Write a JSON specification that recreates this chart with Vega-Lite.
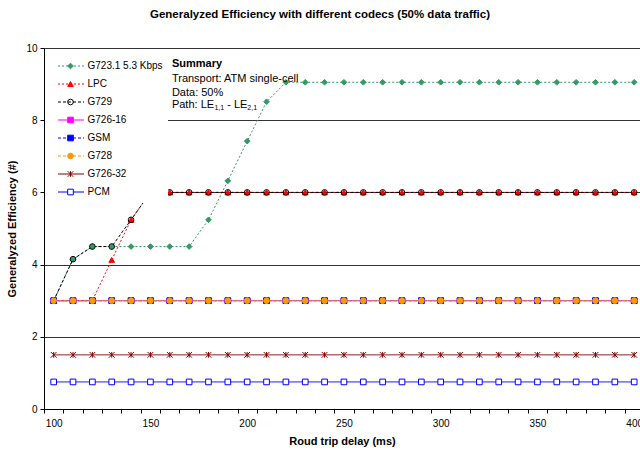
{
"$schema": "https://vega.github.io/schema/vega-lite/v6.json",
"width": 596, "height": 361,
"autosize": {"type": "none"},
"padding": {"left": 44, "top": 48, "right": 0, "bottom": 43},
"background": "white",
"title": {"text": "Generalyzed Efficiency with different codecs (50% data traffic)", "fontSize": 11.5, "fontWeight": "bold", "font": "Liberation Sans", "color": "black", "anchor": "middle", "dx": -22, "offset": 14, "baseline": "alphabetic"},
"config": {"view": {"stroke": null}, "font": "Liberation Sans"},
"datasets": {"codecs": [
{"codec":"G723.1 5.3 Kbps","delay":100,"eff":3.0},{"codec":"G723.1 5.3 Kbps","delay":110,"eff":4.15},{"codec":"G723.1 5.3 Kbps","delay":120,"eff":4.5},{"codec":"G723.1 5.3 Kbps","delay":130,"eff":4.5},{"codec":"G723.1 5.3 Kbps","delay":140,"eff":4.5},{"codec":"G723.1 5.3 Kbps","delay":150,"eff":4.5},{"codec":"G723.1 5.3 Kbps","delay":160,"eff":4.5},{"codec":"G723.1 5.3 Kbps","delay":170,"eff":4.5},{"codec":"G723.1 5.3 Kbps","delay":180,"eff":5.24},{"codec":"G723.1 5.3 Kbps","delay":190,"eff":6.32},{"codec":"G723.1 5.3 Kbps","delay":200,"eff":7.42},{"codec":"G723.1 5.3 Kbps","delay":210,"eff":8.51},{"codec":"G723.1 5.3 Kbps","delay":220,"eff":9.05},{"codec":"G723.1 5.3 Kbps","delay":230,"eff":9.05},{"codec":"G723.1 5.3 Kbps","delay":240,"eff":9.05},{"codec":"G723.1 5.3 Kbps","delay":250,"eff":9.05},{"codec":"G723.1 5.3 Kbps","delay":260,"eff":9.05},{"codec":"G723.1 5.3 Kbps","delay":270,"eff":9.05},{"codec":"G723.1 5.3 Kbps","delay":280,"eff":9.05},{"codec":"G723.1 5.3 Kbps","delay":290,"eff":9.05},{"codec":"G723.1 5.3 Kbps","delay":300,"eff":9.05},{"codec":"G723.1 5.3 Kbps","delay":310,"eff":9.05},{"codec":"G723.1 5.3 Kbps","delay":320,"eff":9.05},{"codec":"G723.1 5.3 Kbps","delay":330,"eff":9.05},{"codec":"G723.1 5.3 Kbps","delay":340,"eff":9.05},{"codec":"G723.1 5.3 Kbps","delay":350,"eff":9.05},{"codec":"G723.1 5.3 Kbps","delay":360,"eff":9.05},{"codec":"G723.1 5.3 Kbps","delay":370,"eff":9.05},{"codec":"G723.1 5.3 Kbps","delay":380,"eff":9.05},{"codec":"G723.1 5.3 Kbps","delay":390,"eff":9.05},{"codec":"G723.1 5.3 Kbps","delay":400,"eff":9.05},
{"codec":"LPC","delay":100,"eff":3},{"codec":"LPC","delay":110,"eff":3},{"codec":"LPC","delay":120,"eff":3},{"codec":"LPC","delay":130,"eff":4.13},{"codec":"LPC","delay":140,"eff":5.24},{"codec":"LPC","delay":150,"eff":6},{"codec":"LPC","delay":160,"eff":6},{"codec":"LPC","delay":170,"eff":6},{"codec":"LPC","delay":180,"eff":6},{"codec":"LPC","delay":190,"eff":6},{"codec":"LPC","delay":200,"eff":6},{"codec":"LPC","delay":210,"eff":6},{"codec":"LPC","delay":220,"eff":6},{"codec":"LPC","delay":230,"eff":6},{"codec":"LPC","delay":240,"eff":6},{"codec":"LPC","delay":250,"eff":6},{"codec":"LPC","delay":260,"eff":6},{"codec":"LPC","delay":270,"eff":6},{"codec":"LPC","delay":280,"eff":6},{"codec":"LPC","delay":290,"eff":6},{"codec":"LPC","delay":300,"eff":6},{"codec":"LPC","delay":310,"eff":6},{"codec":"LPC","delay":320,"eff":6},{"codec":"LPC","delay":330,"eff":6},{"codec":"LPC","delay":340,"eff":6},{"codec":"LPC","delay":350,"eff":6},{"codec":"LPC","delay":360,"eff":6},{"codec":"LPC","delay":370,"eff":6},{"codec":"LPC","delay":380,"eff":6},{"codec":"LPC","delay":390,"eff":6},{"codec":"LPC","delay":400,"eff":6},
{"codec":"G729","delay":100,"eff":3},{"codec":"G729","delay":110,"eff":4.15},{"codec":"G729","delay":120,"eff":4.5},{"codec":"G729","delay":130,"eff":4.5},{"codec":"G729","delay":140,"eff":5.24},{"codec":"G729","delay":150,"eff":6},{"codec":"G729","delay":160,"eff":6},{"codec":"G729","delay":170,"eff":6},{"codec":"G729","delay":180,"eff":6},{"codec":"G729","delay":190,"eff":6},{"codec":"G729","delay":200,"eff":6},{"codec":"G729","delay":210,"eff":6},{"codec":"G729","delay":220,"eff":6},{"codec":"G729","delay":230,"eff":6},{"codec":"G729","delay":240,"eff":6},{"codec":"G729","delay":250,"eff":6},{"codec":"G729","delay":260,"eff":6},{"codec":"G729","delay":270,"eff":6},{"codec":"G729","delay":280,"eff":6},{"codec":"G729","delay":290,"eff":6},{"codec":"G729","delay":300,"eff":6},{"codec":"G729","delay":310,"eff":6},{"codec":"G729","delay":320,"eff":6},{"codec":"G729","delay":330,"eff":6},{"codec":"G729","delay":340,"eff":6},{"codec":"G729","delay":350,"eff":6},{"codec":"G729","delay":360,"eff":6},{"codec":"G729","delay":370,"eff":6},{"codec":"G729","delay":380,"eff":6},{"codec":"G729","delay":390,"eff":6},{"codec":"G729","delay":400,"eff":6},
{"codec":"G726-16","delay":100,"eff":3},{"codec":"G726-16","delay":110,"eff":3},{"codec":"G726-16","delay":120,"eff":3},{"codec":"G726-16","delay":130,"eff":3},{"codec":"G726-16","delay":140,"eff":3},{"codec":"G726-16","delay":150,"eff":3},{"codec":"G726-16","delay":160,"eff":3},{"codec":"G726-16","delay":170,"eff":3},{"codec":"G726-16","delay":180,"eff":3},{"codec":"G726-16","delay":190,"eff":3},{"codec":"G726-16","delay":200,"eff":3},{"codec":"G726-16","delay":210,"eff":3},{"codec":"G726-16","delay":220,"eff":3},{"codec":"G726-16","delay":230,"eff":3},{"codec":"G726-16","delay":240,"eff":3},{"codec":"G726-16","delay":250,"eff":3},{"codec":"G726-16","delay":260,"eff":3},{"codec":"G726-16","delay":270,"eff":3},{"codec":"G726-16","delay":280,"eff":3},{"codec":"G726-16","delay":290,"eff":3},{"codec":"G726-16","delay":300,"eff":3},{"codec":"G726-16","delay":310,"eff":3},{"codec":"G726-16","delay":320,"eff":3},{"codec":"G726-16","delay":330,"eff":3},{"codec":"G726-16","delay":340,"eff":3},{"codec":"G726-16","delay":350,"eff":3},{"codec":"G726-16","delay":360,"eff":3},{"codec":"G726-16","delay":370,"eff":3},{"codec":"G726-16","delay":380,"eff":3},{"codec":"G726-16","delay":390,"eff":3},{"codec":"G726-16","delay":400,"eff":3},
{"codec":"GSM","delay":100,"eff":3},{"codec":"GSM","delay":110,"eff":3},{"codec":"GSM","delay":120,"eff":3},{"codec":"GSM","delay":130,"eff":3},{"codec":"GSM","delay":140,"eff":3},{"codec":"GSM","delay":150,"eff":3},{"codec":"GSM","delay":160,"eff":3},{"codec":"GSM","delay":170,"eff":3},{"codec":"GSM","delay":180,"eff":3},{"codec":"GSM","delay":190,"eff":3},{"codec":"GSM","delay":200,"eff":3},{"codec":"GSM","delay":210,"eff":3},{"codec":"GSM","delay":220,"eff":3},{"codec":"GSM","delay":230,"eff":3},{"codec":"GSM","delay":240,"eff":3},{"codec":"GSM","delay":250,"eff":3},{"codec":"GSM","delay":260,"eff":3},{"codec":"GSM","delay":270,"eff":3},{"codec":"GSM","delay":280,"eff":3},{"codec":"GSM","delay":290,"eff":3},{"codec":"GSM","delay":300,"eff":3},{"codec":"GSM","delay":310,"eff":3},{"codec":"GSM","delay":320,"eff":3},{"codec":"GSM","delay":330,"eff":3},{"codec":"GSM","delay":340,"eff":3},{"codec":"GSM","delay":350,"eff":3},{"codec":"GSM","delay":360,"eff":3},{"codec":"GSM","delay":370,"eff":3},{"codec":"GSM","delay":380,"eff":3},{"codec":"GSM","delay":390,"eff":3},{"codec":"GSM","delay":400,"eff":3},
{"codec":"G728","delay":100,"eff":3},{"codec":"G728","delay":110,"eff":3},{"codec":"G728","delay":120,"eff":3},{"codec":"G728","delay":130,"eff":3},{"codec":"G728","delay":140,"eff":3},{"codec":"G728","delay":150,"eff":3},{"codec":"G728","delay":160,"eff":3},{"codec":"G728","delay":170,"eff":3},{"codec":"G728","delay":180,"eff":3},{"codec":"G728","delay":190,"eff":3},{"codec":"G728","delay":200,"eff":3},{"codec":"G728","delay":210,"eff":3},{"codec":"G728","delay":220,"eff":3},{"codec":"G728","delay":230,"eff":3},{"codec":"G728","delay":240,"eff":3},{"codec":"G728","delay":250,"eff":3},{"codec":"G728","delay":260,"eff":3},{"codec":"G728","delay":270,"eff":3},{"codec":"G728","delay":280,"eff":3},{"codec":"G728","delay":290,"eff":3},{"codec":"G728","delay":300,"eff":3},{"codec":"G728","delay":310,"eff":3},{"codec":"G728","delay":320,"eff":3},{"codec":"G728","delay":330,"eff":3},{"codec":"G728","delay":340,"eff":3},{"codec":"G728","delay":350,"eff":3},{"codec":"G728","delay":360,"eff":3},{"codec":"G728","delay":370,"eff":3},{"codec":"G728","delay":380,"eff":3},{"codec":"G728","delay":390,"eff":3},{"codec":"G728","delay":400,"eff":3},
{"codec":"G726-32","delay":100,"eff":1.5},{"codec":"G726-32","delay":110,"eff":1.5},{"codec":"G726-32","delay":120,"eff":1.5},{"codec":"G726-32","delay":130,"eff":1.5},{"codec":"G726-32","delay":140,"eff":1.5},{"codec":"G726-32","delay":150,"eff":1.5},{"codec":"G726-32","delay":160,"eff":1.5},{"codec":"G726-32","delay":170,"eff":1.5},{"codec":"G726-32","delay":180,"eff":1.5},{"codec":"G726-32","delay":190,"eff":1.5},{"codec":"G726-32","delay":200,"eff":1.5},{"codec":"G726-32","delay":210,"eff":1.5},{"codec":"G726-32","delay":220,"eff":1.5},{"codec":"G726-32","delay":230,"eff":1.5},{"codec":"G726-32","delay":240,"eff":1.5},{"codec":"G726-32","delay":250,"eff":1.5},{"codec":"G726-32","delay":260,"eff":1.5},{"codec":"G726-32","delay":270,"eff":1.5},{"codec":"G726-32","delay":280,"eff":1.5},{"codec":"G726-32","delay":290,"eff":1.5},{"codec":"G726-32","delay":300,"eff":1.5},{"codec":"G726-32","delay":310,"eff":1.5},{"codec":"G726-32","delay":320,"eff":1.5},{"codec":"G726-32","delay":330,"eff":1.5},{"codec":"G726-32","delay":340,"eff":1.5},{"codec":"G726-32","delay":350,"eff":1.5},{"codec":"G726-32","delay":360,"eff":1.5},{"codec":"G726-32","delay":370,"eff":1.5},{"codec":"G726-32","delay":380,"eff":1.5},{"codec":"G726-32","delay":390,"eff":1.5},{"codec":"G726-32","delay":400,"eff":1.5},
{"codec":"PCM","delay":100,"eff":0.75},{"codec":"PCM","delay":110,"eff":0.75},{"codec":"PCM","delay":120,"eff":0.75},{"codec":"PCM","delay":130,"eff":0.75},{"codec":"PCM","delay":140,"eff":0.75},{"codec":"PCM","delay":150,"eff":0.75},{"codec":"PCM","delay":160,"eff":0.75},{"codec":"PCM","delay":170,"eff":0.75},{"codec":"PCM","delay":180,"eff":0.75},{"codec":"PCM","delay":190,"eff":0.75},{"codec":"PCM","delay":200,"eff":0.75},{"codec":"PCM","delay":210,"eff":0.75},{"codec":"PCM","delay":220,"eff":0.75},{"codec":"PCM","delay":230,"eff":0.75},{"codec":"PCM","delay":240,"eff":0.75},{"codec":"PCM","delay":250,"eff":0.75},{"codec":"PCM","delay":260,"eff":0.75},{"codec":"PCM","delay":270,"eff":0.75},{"codec":"PCM","delay":280,"eff":0.75},{"codec":"PCM","delay":290,"eff":0.75},{"codec":"PCM","delay":300,"eff":0.75},{"codec":"PCM","delay":310,"eff":0.75},{"codec":"PCM","delay":320,"eff":0.75},{"codec":"PCM","delay":330,"eff":0.75},{"codec":"PCM","delay":340,"eff":0.75},{"codec":"PCM","delay":350,"eff":0.75},{"codec":"PCM","delay":360,"eff":0.75},{"codec":"PCM","delay":370,"eff":0.75},{"codec":"PCM","delay":380,"eff":0.75},{"codec":"PCM","delay":390,"eff":0.75},{"codec":"PCM","delay":400,"eff":0.75}
]},
"data": {"name": "codecs"},
"layer": [
{
"mark": {"type": "line", "strokeWidth": 1},
"encoding": {
"x": {"field": "delay", "type": "quantitative", "scale": {"domain": [95, 403], "nice": false, "zero": false},
 "axis": {"values": [95,105,115,125,135,145,155,165,175,185,195,205,215,225,235,245,255,265,275,285,295,305,315,325,335,345,355,365,375,385,395],
  "tickCount": 40,
  "labelExpr": "(datum.value + 5) % 50 == 0 ? '' + (datum.value + 5) : ''",
  "labelOffset": 9.67, "labelOverlap": false, "labelFlush": false, "labelBound": false, "grid": false,
  "tickSize": 4, "tickColor": "black", "domainColor": "black", "labelFontSize": 10, "labelColor": "black", "labelPadding": 5, "labelFont": "Liberation Sans",
  "title": "Roud trip delay (ms)", "titleFontSize": 11, "titleFontWeight": "bold", "titleColor": "black", "titlePadding": 7, "titleFont": "Liberation Sans"}},
"y": {"field": "eff", "type": "quantitative", "scale": {"domain": [0, 10], "nice": false, "zero": true},
 "axis": {"values": [0,2,4,6,8,10], "grid": true, "gridColor": "#333333", "gridWidth": 1, "tickSize": 4, "tickColor": "black", "domainColor": "black",
  "labelFontSize": 10, "labelColor": "black", "labelPadding": 3, "labelFont": "Liberation Sans",
  "title": "Generalyzed Efficiency (#)", "titleFontSize": 11, "titleFontWeight": "bold", "titleColor": "black", "titlePadding": 8, "titleFont": "Liberation Sans"}},
"color": {"field": "codec", "type": "nominal",
 "scale": {"domain": ["G723.1 5.3 Kbps","LPC","G729","G726-16","GSM","G728","G726-32","PCM"], "range": ["#339966","#FF0000","#000000","#FF00FF","#0000FF","#FF9900","#800000","#0000FF"]},
 "legend": {"title": null, "orient": "none", "legendX": 1, "legendY": 7, "padding": 5, "fillColor": "white", "symbolType": "stroke", "symbolSize": 676, "symbolStrokeWidth": 1, "symbolOffset": 7.5, "labelOffset": 3, "labelFontSize": 10, "labelFont": "Liberation Sans", "labelColor": "black", "labelLimit": 200, "clipHeight": 12, "rowPadding": 6, "zindex": 1}},
"strokeDash": {"field": "codec", "type": "nominal",
 "scale": {"domain": ["G723.1 5.3 Kbps","LPC","G729","G726-16","GSM","G728","G726-32","PCM"], "range": [[2,2],[2,2],[3,2],[1,0],[3,2],[3,2],[1,0],[1,0]]},
 "legend": {"title": null, "orient": "none", "legendX": 1, "legendY": 7, "padding": 5, "fillColor": "white", "symbolType": "stroke", "symbolSize": 676, "symbolStrokeWidth": 1, "symbolOffset": 7.5, "labelOffset": 3, "labelFontSize": 10, "labelFont": "Liberation Sans", "labelColor": "black", "labelLimit": 200, "clipHeight": 12, "rowPadding": 6, "zindex": 1}}
}
},
{
"mark": {"type": "point", "filled": false, "opacity": 1, "strokeWidth": 1, "size": 32},
"encoding": {
"x": {"field": "delay", "type": "quantitative"},
"y": {"field": "eff", "type": "quantitative"},
"color": {"field": "codec", "type": "nominal",
 "legend": {"title": null, "orient": "none", "legendX": 1, "legendY": 7, "padding": 5, "symbolSize": 32, "symbolStrokeWidth": 1, "symbolOffset": 15.5, "symbolOpacity": 1, "labelOffset": 3, "labelFontSize": 10, "labelFont": "Liberation Sans", "labelExpr": "''", "labelLimit": 200, "clipHeight": 12, "rowPadding": 6, "zindex": 2}},
"shape": {"field": "codec", "type": "nominal",
 "scale": {"domain": ["G723.1 5.3 Kbps","LPC","G729","G726-16","GSM","G728","G726-32","PCM"], "range": ["diamond","triangle-up","circle","square","square","circle","M-1,-1L1,1M-1,1L1,-1M0,-1L0,1","square"]},
 "legend": {"title": null, "orient": "none", "legendX": 1, "legendY": 7, "padding": 5, "symbolSize": 32, "symbolStrokeWidth": 1, "symbolOffset": 15.5, "symbolOpacity": 1, "labelOffset": 3, "labelFontSize": 10, "labelFont": "Liberation Sans", "labelExpr": "''", "labelLimit": 200, "clipHeight": 12, "rowPadding": 6, "zindex": 2}},
"fill": {"field": "codec", "type": "nominal",
 "scale": {"domain": ["G723.1 5.3 Kbps","LPC","G729","G726-16","GSM","G728","G726-32","PCM"], "range": ["#339966","#FF0000","transparent","#FF00FF","#0000FF","#FF9900","transparent","#FFFFFF"]},
 "legend": {"title": null, "orient": "none", "legendX": 1, "legendY": 7, "padding": 5, "symbolSize": 32, "symbolStrokeWidth": 1, "symbolOffset": 15.5, "symbolOpacity": 1, "labelOffset": 3, "labelFontSize": 10, "labelFont": "Liberation Sans", "labelExpr": "''", "labelLimit": 200, "clipHeight": 12, "rowPadding": 6, "zindex": 2}}
}
},
{"data": {"values": [{}]}, "mark": {"type": "text", "align": "left", "baseline": "middle", "fontSize": 11, "fontWeight": "bold", "font": "Liberation Sans", "color": "black"},
 "encoding": {"x": {"datum": 161.1, "type": "quantitative"}, "y": {"datum": 9.55, "type": "quantitative"}, "text": {"value": "Summary"}}},
{"data": {"values": [{}]}, "mark": {"type": "text", "align": "left", "baseline": "middle", "fontSize": 11, "font": "Liberation Sans", "color": "black"},
 "encoding": {"x": {"datum": 161.1, "type": "quantitative"}, "y": {"datum": 9.14, "type": "quantitative"}, "text": {"value": "Transport: ATM single-cell"}}},
{"data": {"values": [{}]}, "mark": {"type": "text", "align": "left", "baseline": "middle", "fontSize": 11, "font": "Liberation Sans", "color": "black"},
 "encoding": {"x": {"datum": 161.1, "type": "quantitative"}, "y": {"datum": 8.76, "type": "quantitative"}, "text": {"value": "Data: 50%"}}},
{"data": {"values": [{}]}, "mark": {"type": "text", "align": "left", "baseline": "middle", "fontSize": 11, "font": "Liberation Sans", "color": "black"},
 "encoding": {"x": {"datum": 161.1, "type": "quantitative"}, "y": {"datum": 8.43, "type": "quantitative"}, "text": {"value": "Path: LE"}}},
{"data": {"values": [{}]}, "mark": {"type": "text", "align": "left", "baseline": "middle", "fontSize": 7, "font": "Liberation Sans", "color": "black", "dx": 42.5, "dy": 3.5},
 "encoding": {"x": {"datum": 161.1, "type": "quantitative"}, "y": {"datum": 8.43, "type": "quantitative"}, "text": {"value": "1,1"}}},
{"data": {"values": [{}]}, "mark": {"type": "text", "align": "left", "baseline": "middle", "fontSize": 11, "font": "Liberation Sans", "color": "black", "dx": 55.3},
 "encoding": {"x": {"datum": 161.1, "type": "quantitative"}, "y": {"datum": 8.43, "type": "quantitative"}, "text": {"value": "- LE"}}},
{"data": {"values": [{}]}, "mark": {"type": "text", "align": "left", "baseline": "middle", "fontSize": 7, "font": "Liberation Sans", "color": "black", "dx": 75.4, "dy": 3.5},
 "encoding": {"x": {"datum": 161.1, "type": "quantitative"}, "y": {"datum": 8.43, "type": "quantitative"}, "text": {"value": "2,1"}}}
],
"resolve": {"legend": {"color": "independent", "strokeDash": "independent", "shape": "independent", "fill": "independent"}}
}
